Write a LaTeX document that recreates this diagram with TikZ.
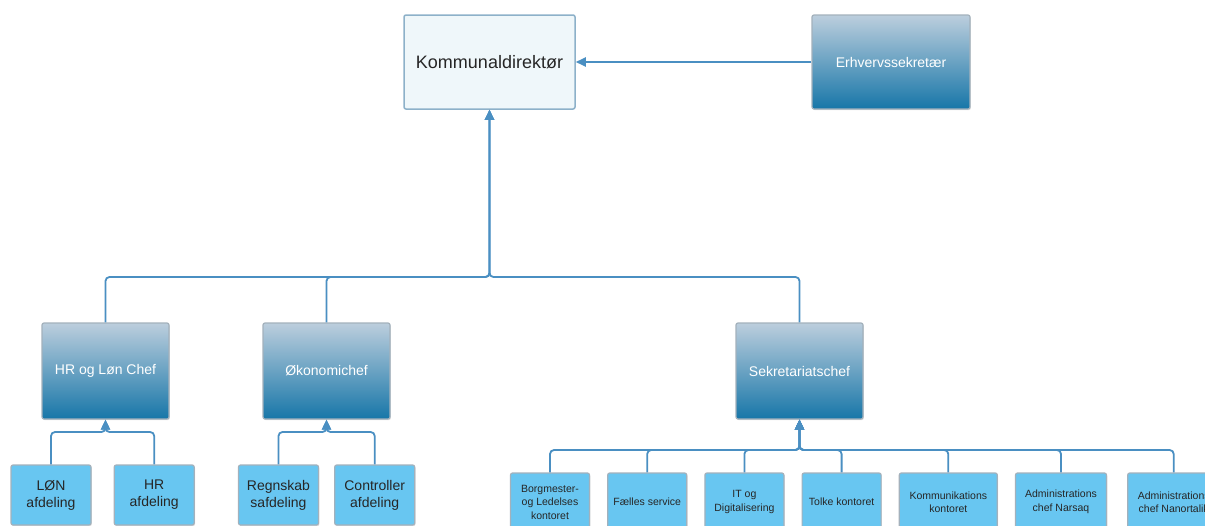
\documentclass[tikz,border=0pt]{standalone}
\usepackage{fontspec}
\setmainfont{Liberation Sans}
\usetikzlibrary{positioning, shadows, arrows.meta}
\definecolor{linjeblaa}{HTML}{4A8FC2}
\definecolor{kantgraa}{HTML}{A3B1BC}
\definecolor{kantblaa}{HTML}{8DB1C9}
\definecolor{topblaa}{HTML}{BCCEDD}
\definecolor{bundblaa}{HTML}{1776A8}
\definecolor{lysblaa}{HTML}{68C6F1}
\definecolor{hvidblaa}{HTML}{EFF7FA}
\tikzstyle{direktor} = [rectangle, rounded corners=2pt, minimum width=171pt, minimum height=94pt, text centered, draw=kantblaa, line width=1.5pt, fill=hvidblaa, text=black!85, font=\fontsize{18}{22}\selectfont]
\tikzstyle{chef} = [rectangle, rounded corners=2pt, minimum width=127pt, minimum height=96pt, text centered, draw=kantgraa, line width=1.2pt, top color=topblaa, bottom color=bundblaa, text=white, font=\fontsize{14}{17}\selectfont, drop shadow={shadow xshift=0.8pt, shadow yshift=-1.2pt, opacity=0.25}]
\tikzstyle{afdeling} = [rectangle, rounded corners=2pt, minimum width=80pt, minimum height=60pt, align=center, draw=kantgraa, line width=1.2pt, fill=lysblaa, text=black!85, font=\fontsize{14}{17}\selectfont, drop shadow={shadow xshift=0.8pt, shadow yshift=-1.2pt, opacity=0.25}]
\tikzstyle{kontor} = [afdeling, minimum width=79pt, minimum height=58pt, font=\fontsize{10.5}{13.5}\selectfont]
\tikzstyle{arrow} = [linjeblaa, line width=1.8pt, ->, >={Triangle[length=10pt,width=9pt]}, rounded corners=4pt]

\begin{document}
\begin{tikzpicture}[x=1pt, y=-1pt, node distance=17pt]
    \useasboundingbox (0,0) rectangle (1205,525);
    %ledelse
    \node (kd) [direktor] at (489.5,62) {Kommunaldirektør};
    \node (erh) [chef, minimum width=158pt, minimum height=94pt] at (891,62) {Erhvervssekretær};
    \node (hrchef) [chef] at (105.5,371) {HR og Løn Chef};
    \node (oko) [chef] at (326.5,371) {Økonomichef};
    \node (sek) [chef] at (799.5,371) {Sekretariatschef};

    %afdelinger
    \node (lon) [afdeling] at (51,495) {LØN\\afdeling};
    \node (hrafd) [afdeling, right=22pt of lon] {HR\\afdeling};
    \node (regn) [afdeling] at (278.5,495) {Regnskab\\safdeling};
    \node (contr) [afdeling, right=15pt of regn] {Controller\\afdeling};

    %kontorer under sekretariatet
    \node (borg) [kontor] at (550,502) {Borgmester-\\og Ledelses\\kontoret};
    \node (fael) [kontor, right=of borg] {Fælles service};
    \node (it) [kontor, right=of fael] {IT og\\Digitalisering};
    \node (tolke) [kontor, right=of it] {Tolke kontoret};
    \node (komm) [kontor, minimum width=98pt, right=of tolke] {Kommunikations\\kontoret};
    \node (nars) [kontor, minimum width=91pt, right=of komm] {Administrations\\chef Narsaq};
    \node (nano) [kontor, minimum width=92pt, right=20pt of nars] {Administrations\\chef Nanortalik};

    %forbindelser
    \coordinate (topbus) at (489.5,277);
    \coordinate (hrbus) at (105.5,432);
    \coordinate (okobus) at (326.5,432);
    \coordinate (sekbus) at (799.5,450);
    \draw [arrow](erh) -- (kd);
    \draw [arrow](hrchef.north) |- (topbus) -- (kd.south);
    \draw [arrow](oko.north) |- (topbus) -- (kd.south);
    \draw [arrow](sek.north) |- (topbus) -- (kd.south);
    \draw [arrow](lon.north) |- (hrbus) -- (hrchef.south);
    \draw [arrow](hrafd.north) |- (hrbus) -- (hrchef.south);
    \draw [arrow](regn.north) |- (okobus) -- (oko.south);
    \draw [arrow](contr.north) |- (okobus) -- (oko.south);
    \draw [arrow](borg.north) |- (sekbus) -- (sek.south);
    \draw [arrow](fael.north) |- (sekbus) -- (sek.south);
    \draw [arrow](it.north) |- (sekbus) -- (sek.south);
    \draw [arrow](tolke.north) |- (sekbus) -- (sek.south);
    \draw [arrow](komm.north) |- (sekbus) -- (sek.south);
    \draw [arrow](nars.north) |- (sekbus) -- (sek.south);
    \draw [arrow](nano.north) |- (sekbus) -- (sek.south);
\end{tikzpicture}
\end{document}
